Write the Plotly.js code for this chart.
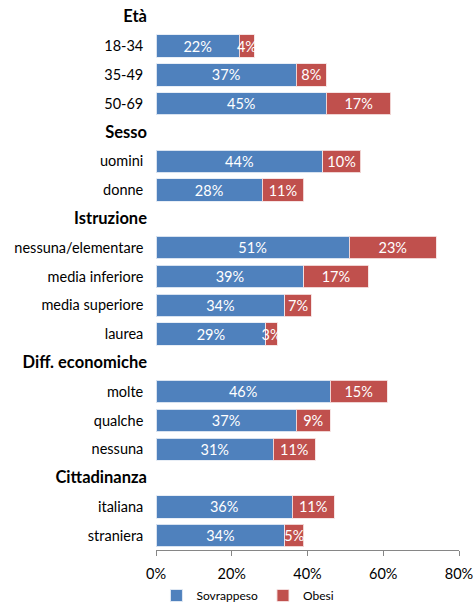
<!DOCTYPE html>
<html>
<head>
<meta charset="utf-8">
<script src="https://cdn.plot.ly/plotly-3.0.1.min.js"></script>
<style>html,body{margin:0;padding:0;background:#fff;}#chart{width:475px;height:610px;}</style>
</head>
<body>
<div id="chart"></div>
<script>
const categories = ["Età","18-34","35-49","50-69","Sesso","uomini","donne","Istruzione","nessuna/elementare","media inferiore","media superiore","laurea","Diff. economiche","molte","qualche","nessuna","Cittadinanza","italiana","straniera"];
const isHeader = [true,false,false,false,true,false,false,true,false,false,false,false,true,false,false,false,true,false,false];
const sovrappeso = [null,22,37,45,null,44,28,null,51,39,34,29,null,46,37,31,null,36,34];
const obesi = [null,4,8,17,null,10,11,null,23,17,7,3,null,15,9,11,null,11,5];
const xTicks = [0,20,40,60,80];
const xTickLabels = ["0%","20%","40%","60%","80%"];

const tickText = categories.map((c,i)=> isHeader[i] ? "<b><span style='font-size:16.5px'>"+c+"</span></b>" : c+" ");
const lbl = v => v==null ? "" : v+"%";

const common = {
  type:"bar", orientation:"h", y:categories,
  textposition:"inside", insidetextanchor:"middle", constraintext:"none", textangle:0,
  textfont:{color:"#ffffff", size:14.5, family:"Lato, 'Open Sans', sans-serif"},
  hoverinfo:"none", cliponaxis:false
};
const data = [
  Object.assign({}, common, {name:"Sovrappeso", x:sovrappeso, text:sovrappeso.map(lbl),
    marker:{color:"#4F81BD", line:{color:"rgba(230,236,245,0.9)", width:1}}}),
  Object.assign({}, common, {name:"Obesi", x:obesi, text:obesi.map(lbl),
    marker:{color:"#C0504D", line:{color:"rgba(245,225,225,0.9)", width:1}}})
];
const layout = {
  width:475, height:610,
  margin:{l:156, r:16, t:3, b:60},
  barmode:"stack", bargap:0.22,
  font:{family:"Lato, 'Open Sans', sans-serif", size:14.5, color:"#000"},
  paper_bgcolor:"#fff", plot_bgcolor:"#fff",
  showlegend:true,
  legend:{orientation:"h", xref:"container", yref:"container", x:0.522, xanchor:"center", y:-0.009, yanchor:"bottom",
    font:{size:12, color:"#000"}, traceorder:"normal"},
  xaxis:{range:[0,80], tickvals:xTicks, ticktext:xTickLabels, showgrid:false, zeroline:false,
    showline:true, linecolor:"#868686", linewidth:1, ticks:"outside", ticklen:5, tickcolor:"#868686",
    ticklabelstandoff:6, tickfont:{size:14.5, color:"#000"}, fixedrange:true},
  yaxis:{type:"category", range:[18.5,-0.5], tickvals:categories, ticktext:tickText,
    showgrid:false, zeroline:false, showline:false, ticks:"", ticklabelstandoff:8,
    tickfont:{size:14.5, color:"#000"}, fixedrange:true}
};
Plotly.newPlot("chart", data, layout, {displayModeBar:false, staticPlot:true});
</script>
</body>
</html>
